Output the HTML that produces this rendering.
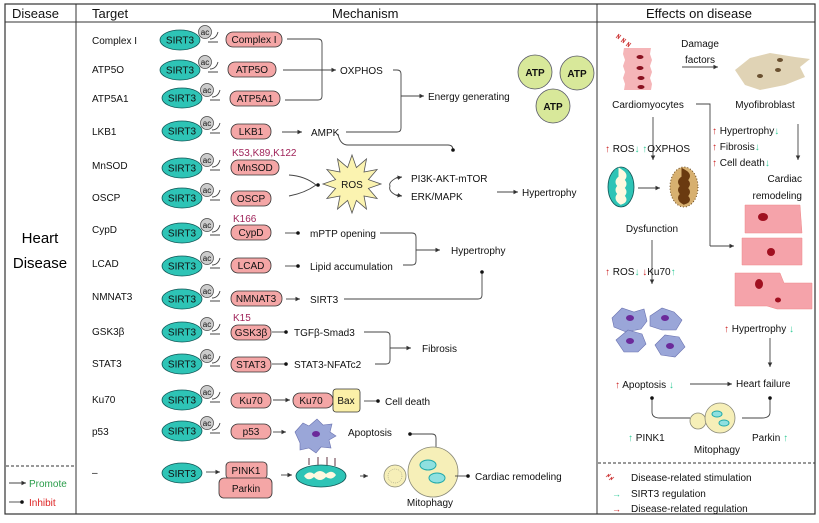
<!DOCTYPE html>
<html><head><meta charset="utf-8"><style>
html,body{margin:0;padding:0;background:#fff;}
svg{display:block;font-family:"Liberation Sans",Arial,sans-serif;}
.t{font-size:10px;fill:#111;}
.h{font-size:13px;fill:#111;}
.bx{fill:#f4a6a6;stroke:#333;stroke-width:0.8;}
.s{fill:#2ec4b6;stroke:#155;stroke-width:0.8;}
.ln{fill:none;stroke:#444;stroke-width:0.9;}
.k{font-size:10px;fill:#a0245a;}
</style></head><body>
<svg width="819" height="523" viewBox="0 0 819 523" xmlns="http://www.w3.org/2000/svg">
<defs>
<marker id="a" markerWidth="6" markerHeight="6" refX="5" refY="3" orient="auto"><path d="M0,0.5 L5,3 L0,5.5z" fill="#333"/></marker>
<marker id="d" markerWidth="6" markerHeight="6" refX="3" refY="3" orient="auto"><circle cx="3" cy="3" r="2" fill="#111"/></marker>
<g id="sa">
<ellipse cx="0" cy="0" rx="20" ry="10" class="s"/>
<text x="0" y="3.5" text-anchor="middle" style="font-size:10px" fill="#111">SIRT3</text>
<circle cx="25" cy="-8" r="6.5" fill="#ccc" stroke="#444" stroke-width="0.7"/>
<text x="25" y="-5" text-anchor="middle" style="font-size:8px" fill="#111">ac</text>
<path d="M30,-1 q6,0 8,-7 M28,2 l10,0" class="ln" stroke-width="0.7"/>
</g>
</defs>
<rect x="5" y="4" width="810" height="510" fill="none" stroke="#333" stroke-width="1.2"/>
<line x1="5" y1="22" x2="815" y2="22" stroke="#333"/>
<line x1="76" y1="4" x2="76" y2="514" stroke="#333"/>
<line x1="597" y1="4" x2="597" y2="514" stroke="#333"/>
<text x="12" y="18" class="h">Disease</text>
<text x="92" y="18" class="h">Target</text>
<text x="332" y="18" class="h">Mechanism</text>
<text x="646" y="18" class="h">Effects on disease</text>
<text x="40" y="243" text-anchor="middle" style="font-size:15px">Heart</text>
<text x="40" y="268" text-anchor="middle" style="font-size:15px">Disease</text>
<line x1="6" y1="466" x2="76" y2="466" stroke="#333" stroke-dasharray="3,2"/>
<line x1="9" y1="483" x2="26" y2="483" class="ln" marker-end="url(#a)"/>
<text x="29" y="487" style="font-size:10px" fill="#2a9d4a">Promote</text>
<line x1="9" y1="502" x2="22" y2="502" class="ln" marker-end="url(#d)"/>
<text x="29" y="506" style="font-size:10px" fill="#d22">Inhibit</text>

<!-- targets -->
<g class="t">
<text x="92" y="44">Complex I</text><text x="92" y="73">ATP5O</text><text x="92" y="102">ATP5A1</text>
<text x="92" y="135">LKB1</text><text x="92" y="169">MnSOD</text><text x="92" y="201">OSCP</text>
<text x="92" y="233">CypD</text><text x="92" y="267">LCAD</text><text x="92" y="300">NMNAT3</text>
<text x="92" y="335">GSK3β</text><text x="92" y="367">STAT3</text><text x="92" y="403">Ku70</text>
<text x="92" y="435">p53</text><text x="92" y="476">–</text>
</g>
<use href="#sa" x="180" y="40"/><use href="#sa" x="180" y="70"/><use href="#sa" x="182" y="98"/>
<use href="#sa" x="182" y="131"/><use href="#sa" x="182" y="168"/><use href="#sa" x="182" y="198"/>
<use href="#sa" x="182" y="233"/><use href="#sa" x="182" y="266"/><use href="#sa" x="182" y="299"/>
<use href="#sa" x="182" y="332"/><use href="#sa" x="182" y="364"/><use href="#sa" x="182" y="400"/>
<use href="#sa" x="182" y="431"/>
<ellipse cx="182" cy="473" rx="20" ry="10" class="s"/><text x="182" y="477" text-anchor="middle" class="t">SIRT3</text>

<rect x="226" y="32" width="56" height="15" rx="7" class="bx"/><text x="254" y="43" text-anchor="middle" class="t">Complex I</text>
<rect x="228" y="62" width="48" height="15" rx="7" class="bx"/><text x="252" y="73" text-anchor="middle" class="t">ATP5O</text>
<rect x="230" y="91" width="50" height="15" rx="7" class="bx"/><text x="255" y="102" text-anchor="middle" class="t">ATP5A1</text>
<rect x="231" y="124" width="40" height="15" rx="7" class="bx"/><text x="251" y="135" text-anchor="middle" class="t">LKB1</text>
<rect x="231" y="160" width="48" height="15" rx="7" class="bx"/><text x="255" y="171" text-anchor="middle" class="t">MnSOD</text>
<rect x="231" y="191" width="40" height="15" rx="7" class="bx"/><text x="251" y="202" text-anchor="middle" class="t">OSCP</text>
<rect x="231" y="225" width="40" height="15" rx="7" class="bx"/><text x="251" y="236" text-anchor="middle" class="t">CypD</text>
<rect x="231" y="258" width="40" height="15" rx="7" class="bx"/><text x="251" y="269" text-anchor="middle" class="t">LCAD</text>
<rect x="231" y="291" width="51" height="15" rx="7" class="bx"/><text x="256" y="302" text-anchor="middle" class="t">NMNAT3</text>
<rect x="231" y="325" width="40" height="15" rx="7" class="bx"/><text x="251" y="336" text-anchor="middle" class="t">GSK3β</text>
<rect x="231" y="357" width="40" height="15" rx="7" class="bx"/><text x="251" y="368" text-anchor="middle" class="t">STAT3</text>
<rect x="231" y="393" width="40" height="15" rx="7" class="bx"/><text x="251" y="404" text-anchor="middle" class="t">Ku70</text>
<rect x="231" y="424" width="40" height="15" rx="7" class="bx"/><text x="251" y="435" text-anchor="middle" class="t">p53</text>
<text x="232" y="156" class="k">K53,K89,K122</text>
<text x="233" y="222" class="k">K166</text>
<text x="233" y="321" class="k">K15</text>

<!-- mechanism lines -->
<path d="M287,39 H318 Q322,39 322,43 V96 Q322,100 318,100 H285" class="ln"/>
<line x1="283" y1="70" x2="336" y2="70" class="ln" marker-end="url(#a)"/>
<text x="340" y="74" class="t">OXPHOS</text>
<path d="M393,70 H397 Q401,70 401,74 V128 Q401,132 397,132 H346" class="ln"/>
<line x1="401" y1="96" x2="424" y2="96" class="ln" marker-end="url(#a)"/>
<text x="428" y="100" class="t">Energy generating</text>
<line x1="282" y1="132" x2="302" y2="132" class="ln" marker-end="url(#a)"/>
<text x="311" y="136" class="t">AMPK</text>
<path d="M338,134 Q340,145 348,145 H448 Q453,145 453,150" class="ln" marker-end="url(#d)"/>
<g fill="#d8e89a" stroke="#556" stroke-width="0.8">
<circle cx="535" cy="72" r="17"/><circle cx="577" cy="73" r="17"/><circle cx="553" cy="106" r="17"/></g>
<g class="t" font-weight="bold" text-anchor="middle"><text x="535" y="76">ATP</text><text x="577" y="77">ATP</text><text x="553" y="110">ATP</text></g>

<path d="M289,175 Q305,176 316,185 M289,196 Q305,193 316,185" class="ln"/>
<line x1="316" y1="185" x2="318" y2="185" class="ln" marker-end="url(#d)"/>
<polygon points="381,184 368.4,188.4 377.1,198.5 364,196 366.5,209.1 356.4,200.4 352,213 347.6,200.4 337.5,209.1 340,196 326.9,198.5 335.6,188.4 323,184 335.6,179.6 326.9,169.5 340,172 337.5,158.9 347.6,167.6 352,155 356.4,167.6 366.5,158.9 364,172 377.1,169.5 368.4,179.6" fill="#fbf3b0" stroke="#555" stroke-width="0.8"/>
<text x="352" y="188" text-anchor="middle" class="t">ROS</text>
<path d="M398,177 Q388,182 390,186 Q388,192 398,196" class="ln"/>
<line x1="396" y1="178" x2="402" y2="177" class="ln" marker-end="url(#a)"/>
<line x1="396" y1="195" x2="402" y2="196" class="ln" marker-end="url(#a)"/>
<text x="411" y="182" class="t">PI3K-AKT-mTOR</text>
<text x="411" y="200" class="t">ERK/MAPK</text>
<line x1="497" y1="192" x2="518" y2="192" class="ln" marker-end="url(#a)"/>
<text x="522" y="196" class="t">Hypertrophy</text>

<line x1="285" y1="233" x2="298" y2="233" class="ln" marker-end="url(#d)"/>
<text x="310" y="237" class="t">mPTP opening</text>
<line x1="285" y1="266" x2="298" y2="266" class="ln" marker-end="url(#d)"/>
<text x="310" y="270" class="t">Lipid accumulation</text>
<path d="M380,233 H412 Q416,233 416,237 V261 Q416,265 412,265 H403" class="ln"/>
<line x1="416" y1="250" x2="440" y2="250" class="ln" marker-end="url(#a)"/>
<text x="451" y="254" class="t">Hypertrophy</text>
<line x1="286" y1="299" x2="300" y2="299" class="ln" marker-end="url(#a)"/>
<text x="310" y="303" class="t">SIRT3</text>
<path d="M344,299 H478 Q482,299 482,295 V272" class="ln" marker-end="url(#d)"/>

<line x1="272" y1="332" x2="286" y2="332" class="ln" marker-end="url(#d)"/>
<text x="294" y="336" class="t">TGFβ-Smad3</text>
<line x1="272" y1="364" x2="286" y2="364" class="ln" marker-end="url(#d)"/>
<text x="294" y="368" class="t">STAT3-NFATc2</text>
<path d="M364,332 H386 Q390,332 390,336 V360 Q390,364 386,364 H375" class="ln"/>
<line x1="390" y1="348" x2="411" y2="348" class="ln" marker-end="url(#a)"/>
<text x="422" y="352" class="t">Fibrosis</text>

<line x1="273" y1="400" x2="290" y2="400" class="ln" marker-end="url(#a)"/>
<rect x="293" y="393" width="40" height="15" rx="7" class="bx"/><text x="311" y="404" text-anchor="middle" class="t">Ku70</text>
<rect x="333" y="389" width="27" height="23" rx="3" fill="#fbf0a8" stroke="#333" stroke-width="0.8"/><text x="346" y="404" text-anchor="middle" class="t">Bax</text>
<line x1="364" y1="401" x2="378" y2="401" class="ln" marker-end="url(#d)"/>
<text x="385" y="405" class="t">Cell death</text>

<line x1="273" y1="432" x2="286" y2="432" class="ln" marker-end="url(#a)"/>
<path d="M295,432 l8,-9 l6,3 l8,-7 l6,6 l9,-1 l-2,8 l6,4 l-7,4 l2,8 l-10,-1 l-5,6 l-7,-5 l-9,2 l0,-7 z" fill="#9aa6d8" stroke="#6a72b0" stroke-width="0.6"/>
<ellipse cx="316" cy="434" rx="4" ry="3" fill="#6b2a9a"/>
<text x="348" y="436" class="t">Apoptosis</text>
<path d="M410,434 H432 Q436,434 436,438 V448" class="ln" marker-start="url(#d)"/>

<line x1="206" y1="472" x2="220" y2="472" class="ln" marker-end="url(#a)"/>
<rect x="226" y="462" width="41" height="17" rx="4" class="bx"/><text x="246" y="474" text-anchor="middle" class="t">PINK1</text>
<rect x="219" y="478" width="53" height="20" rx="5" class="bx"/><text x="246" y="492" text-anchor="middle" class="t">Parkin</text>
<line x1="281" y1="475" x2="292" y2="475" class="ln" marker-end="url(#a)"/>
<ellipse cx="321" cy="476" rx="25" ry="11" fill="#2ec4b6" stroke="#155" stroke-width="0.8"/>
<path d="M304,476 q5,-6 10,-2 q6,-6 12,0 q6,-5 10,1 q-4,6 -10,2 q-6,6 -12,0 q-6,5 -10,-1z" fill="#fff9e0"/>
<g stroke="#7a5560" stroke-width="1.2" fill="#e8a0a0"><line x1="309" y1="465" x2="309" y2="458"/><line x1="318" y1="465" x2="318" y2="457"/><line x1="327" y1="465" x2="327" y2="457"/><line x1="335" y1="466" x2="335" y2="458"/></g>
<line x1="360" y1="476" x2="368" y2="476" class="ln" marker-end="url(#a)"/>
<circle cx="395" cy="476" r="11" fill="#f6efb8" stroke="#887" stroke-width="0.8"/>
<circle cx="395" cy="476" r="7" fill="none" stroke="#887" stroke-width="0.5" stroke-dasharray="1,1"/>
<circle cx="433" cy="472" r="25" fill="#f6efb8" stroke="#887" stroke-width="0.8"/>
<ellipse cx="428" cy="465" rx="8" ry="5" fill="#8fe0e0" stroke="#2aa"/>
<ellipse cx="437" cy="478" rx="8" ry="5" fill="#8fe0e0" stroke="#2aa"/>
<line x1="455" y1="476" x2="468" y2="476" class="ln" marker-end="url(#d)"/>
<text x="475" y="480" class="t">Cardiac remodeling</text>
<text x="430" y="506" text-anchor="middle" class="t">Mitophagy</text>

<!-- Effects -->
<g stroke="#c33" stroke-width="0.8" fill="none"><path d="M616,38 l3,-4 l-1,5 l3,-4 M621,42 l3,-4 l-1,5 l3,-4 M626,46 l3,-4 l-1,5 l3,-4"/></g>
<path d="M624,48 h27 l-1,6 l2,6 l-2,6 l2,6 l-2,6 l2,6 l-1,6 h-27 l1,-6 l-2,-6 l2,-6 l-2,-6 l2,-6 l-2,-6z" fill="#f5b5b8"/>
<g fill="#8a1020"><ellipse cx="640" cy="57" rx="3.5" ry="2"/><ellipse cx="640" cy="68" rx="3.5" ry="2"/><ellipse cx="641" cy="78" rx="3.5" ry="2"/><ellipse cx="641" cy="87" rx="3.5" ry="2"/></g>
<text x="700" y="47" text-anchor="middle" class="t">Damage</text>
<text x="700" y="63" text-anchor="middle" class="t">factors</text>
<line x1="682" y1="67" x2="718" y2="67" class="ln" marker-end="url(#a)"/>
<path d="M735,70 l15,-12 l20,-5 l25,4 l15,2 l-10,8 l5,10 l-20,8 l-25,5 l-15,-5z" fill="#e0d3b5"/>
<g fill="#6a5030"><ellipse cx="780" cy="60" rx="3" ry="2"/><ellipse cx="778" cy="70" rx="3" ry="2"/><ellipse cx="760" cy="76" rx="3" ry="2"/></g>
<text x="648" y="108" text-anchor="middle" class="t">Cardiomyocytes</text>
<text x="765" y="108" text-anchor="middle" class="t">Myofibroblast</text>
<path d="M696,104 H710 V246" class="ln"/><line x1="710" y1="246" x2="734" y2="246" class="ln" marker-end="url(#a)"/>
<line x1="653" y1="117" x2="653" y2="160" class="ln" marker-end="url(#a)"/>
<text x="605" y="152" class="t"><tspan fill="#c22">↑</tspan> ROS<tspan fill="#3c9">↓</tspan> <tspan fill="#3c9">↑</tspan>OXPHOS</text>
<text x="712" y="134" class="t"><tspan fill="#c22">↑</tspan> Hypertrophy<tspan fill="#3c9">↓</tspan></text>
<text x="712" y="150" class="t"><tspan fill="#c22">↑</tspan> Fibrosis<tspan fill="#3c9">↓</tspan></text>
<text x="712" y="166" class="t"><tspan fill="#c22">↑</tspan> Cell death<tspan fill="#3c9">↓</tspan></text>
<line x1="798" y1="124" x2="798" y2="160" class="ln" marker-end="url(#a)"/>
<text x="802" y="182" text-anchor="end" class="t">Cardiac</text>
<text x="802" y="199" text-anchor="end" class="t">remodeling</text>
<ellipse cx="621" cy="187" rx="13" ry="20" fill="#2ec4b6" stroke="#155" stroke-width="0.8"/>
<path d="M621,172 q6,4 0,8 q6,4 0,8 q6,4 0,8 q6,4 0,6 q-6,-4 0,-8 q-6,-4 0,-8 q-6,-4 0,-8z" fill="#fff9e0" stroke="#fff9e0" stroke-width="5"/>
<line x1="638" y1="188" x2="660" y2="188" class="ln" marker-end="url(#a)"/>
<ellipse cx="684" cy="187" rx="14" ry="20" fill="#d7b070" stroke="#6a4a20" stroke-dasharray="1,2"/>
<path d="M684,172 q7,4 0,8 q7,4 0,8 q7,4 0,8 q7,4 0,6 q-7,-4 0,-8 q-7,-4 0,-8 q-7,-4 0,-8z" fill="#6a3a10" stroke="#6a3a10" stroke-width="5"/>
<text x="652" y="232" text-anchor="middle" class="t">Dysfunction</text>
<line x1="652" y1="240" x2="652" y2="284" class="ln" marker-end="url(#a)"/>
<text x="605" y="275" class="t"><tspan fill="#c22">↑</tspan> ROS<tspan fill="#3c9">↓</tspan>  <tspan fill="#c22">↓</tspan>Ku70<tspan fill="#3c9">↑</tspan></text>
<g fill="#9aa6d8" stroke="#6a72b0" stroke-width="0.6">
<path d="M612,318 l10,-10 l12,4 l10,-3 l3,12 l-6,8 l-15,3 l-12,-5z"/>
<path d="M650,316 l12,-8 l12,4 l8,8 l-6,10 l-14,0 l-12,-4z"/>
<path d="M616,340 l12,-10 l14,4 l4,10 l-8,8 l-14,0z"/>
<path d="M655,345 l10,-10 l14,2 l6,10 l-10,10 l-14,-2z"/></g>
<g fill="#6b2a9a"><ellipse cx="630" cy="318" rx="4" ry="3"/><ellipse cx="665" cy="318" rx="4" ry="3"/><ellipse cx="630" cy="341" rx="4" ry="3"/><ellipse cx="670" cy="346" rx="4" ry="3"/></g>
<g fill="#f5a3aa" stroke="#e88" stroke-width="0.5">
<path d="M745,205 h55 l2,28 h-57z"/><path d="M742,238 h60 v27 h-60z"/><path d="M735,273 h45 l4,10 h28 v26 h-35 l-10,-3 h-32z"/></g>
<g fill="#a01020"><ellipse cx="763" cy="217" rx="5" ry="4"/><ellipse cx="771" cy="252" rx="4" ry="4"/><ellipse cx="759" cy="284" rx="4" ry="5"/><ellipse cx="778" cy="300" rx="3" ry="2.5"/></g>
<text x="724" y="332" class="t"><tspan fill="#c22">↑</tspan> Hypertrophy <tspan fill="#3c9">↓</tspan></text>
<line x1="770" y1="338" x2="770" y2="367" class="ln" marker-end="url(#a)"/>
<text x="736" y="387" class="t">Heart failure</text>
<text x="615" y="388" class="t"><tspan fill="#c22">↑</tspan> Apoptosis <tspan fill="#3c9">↓</tspan></text>
<line x1="690" y1="384" x2="732" y2="384" class="ln" marker-end="url(#a)"/>
<path d="M652,398 V412 Q652,418 660,418 H690" class="ln" marker-start="url(#d)"/>
<path d="M770,398 V412 Q770,418 762,418 H742" class="ln" marker-start="url(#d)"/>
<circle cx="698" cy="421" r="8" fill="#f6efb8" stroke="#887" stroke-width="0.8"/>
<circle cx="720" cy="418" r="15" fill="#f6efb8" stroke="#887" stroke-width="0.8"/>
<ellipse cx="717" cy="414" rx="5" ry="3" fill="#8fe0e0" stroke="#2aa"/><ellipse cx="724" cy="423" rx="5" ry="3" fill="#8fe0e0" stroke="#2aa"/>
<text x="628" y="441" class="t"><tspan fill="#3c9">↑</tspan> PINK1</text>
<text x="752" y="441" class="t">Parkin <tspan fill="#3c9">↑</tspan></text>
<text x="717" y="453" text-anchor="middle" class="t">Mitophagy</text>
<line x1="598" y1="463" x2="815" y2="463" stroke="#333" stroke-dasharray="3,2"/>
<path d="M606,477 l3,-3 l-1,3 l3,-3 M609,480 l3,-3 l-1,3 l3,-3" stroke="#c33" stroke-width="0.7" fill="none"/>
<text x="631" y="481" class="t">Disease-related stimulation</text>
<text x="612" y="497" style="font-size:9px" fill="#3c9">→</text><text x="631" y="497" class="t">SIRT3 regulation</text>
<text x="612" y="512" style="font-size:9px" fill="#c22">→</text><text x="631" y="512" class="t">Disease-related regulation</text>
</svg>
</body></html>
